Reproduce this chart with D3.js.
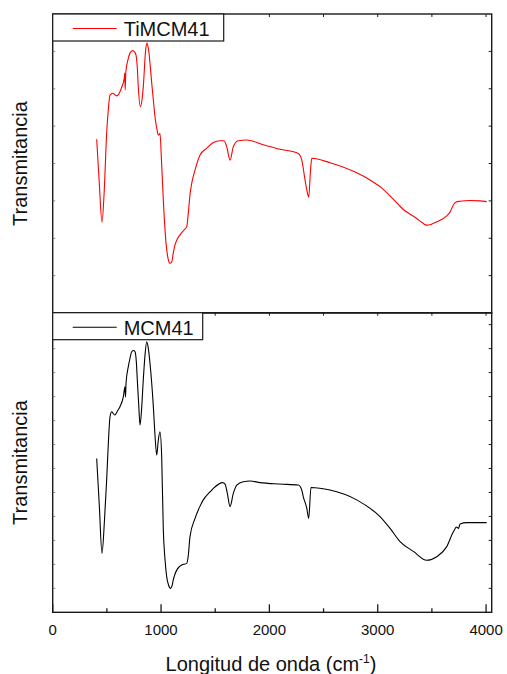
<!DOCTYPE html>
<html>
<head>
<meta charset="utf-8">
<script src="https://cdn.jsdelivr.net/npm/d3@7"></script>
<style>
  body { margin: 0; background: #fff; }
  svg { display: block; font-family: 'Liberation Sans', Arial, sans-serif; }
</style>
</head>
<body>
<svg width="507" height="674"></svg>
<script>
// FTIR spectra, wavenumber (cm-1) vs transmittance (arbitrary units)
const tiWave = [406, 430, 455, 476, 498, 513, 529, 554, 591, 637, 661, 665, 669, 675, 698, 714, 738, 757, 769, 781, 790, 809, 824, 836, 858, 870, 882, 889, 914, 929, 944, 960, 975, 986, 990, 1004, 1021, 1046, 1064, 1083, 1098, 1113, 1129, 1145, 1175, 1212, 1237, 1252, 1267, 1283, 1314, 1360, 1422, 1483, 1544, 1581, 1606, 1637, 1667, 1713, 1791, 1944, 2098, 2267, 2299, 2329, 2345, 2363, 2380, 2391, 2560, 2806, 2929, 3021, 3132, 3236, 3360, 3409, 3452, 3492, 3545, 3637, 3667, 3698, 3723, 3760, 3852, 3944, 4006];
const tiTrans = [4.65, 3.47, 2.43, 3.29, 4.81, 5.43, 5.83, 5.88, 5.81, 6.04, 6.29, 6.42, 5.97, 6.45, 6.81, 6.96, 7.02, 6.98, 6.90, 6.56, 6.05, 5.52, 5.70, 6.05, 7.04, 7.22, 7.09, 6.95, 6.15, 5.70, 5.25, 4.95, 4.76, 4.79, 4.81, 4.09, 3.02, 1.87, 1.47, 1.33, 1.36, 1.61, 1.82, 1.95, 2.09, 2.22, 2.31, 2.68, 3.16, 3.47, 3.83, 4.23, 4.41, 4.56, 4.61, 4.61, 4.45, 4.09, 4.45, 4.61, 4.63, 4.50, 4.38, 4.27, 4.09, 3.56, 3.30, 3.10, 3.83, 4.14, 4.02, 3.75, 3.56, 3.38, 3.08, 2.77, 2.53, 2.42, 2.35, 2.37, 2.44, 2.60, 2.70, 2.89, 2.97, 2.99, 3.01, 3.00, 2.98];

const mcmWave = [406, 430, 455, 478, 498, 515, 529, 545, 559, 575, 598, 621, 652, 667, 672, 677, 698, 714, 729, 746, 760, 772, 781, 794, 806, 820, 836, 852, 868, 882, 898, 929, 944, 960, 975, 990, 1006, 1021, 1037, 1052, 1069, 1089, 1101, 1113, 1129, 1145, 1166, 1191, 1237, 1252, 1267, 1314, 1360, 1390, 1452, 1483, 1569, 1591, 1612, 1637, 1667, 1699, 1759, 1821, 1914, 2098, 2267, 2299, 2313, 2345, 2363, 2384, 2560, 2806, 3021, 3114, 3206, 3329, 3452, 3545, 3637, 3698, 3728, 3745, 3760, 3822, 4006];
const mcmTrans = [6.42, 4.48, 2.46, 3.85, 5.52, 7.19, 8.16, 8.37, 8.29, 8.23, 8.40, 8.58, 8.99, 9.41, 8.98, 9.57, 10.25, 10.61, 10.87, 10.92, 10.87, 10.44, 9.69, 8.65, 7.81, 8.44, 9.69, 10.73, 11.29, 11.03, 10.39, 8.58, 7.40, 6.56, 7.19, 7.53, 6.49, 3.43, 2.18, 1.49, 1.14, 1.00, 1.10, 1.35, 1.60, 1.76, 1.89, 1.97, 2.04, 2.39, 3.15, 3.92, 4.43, 4.69, 5.02, 5.17, 5.41, 5.35, 4.96, 4.41, 4.96, 5.31, 5.45, 5.48, 5.41, 5.35, 5.31, 5.10, 4.82, 4.35, 3.92, 5.21, 5.10, 4.69, 3.99, 3.50, 2.95, 2.54, 2.17, 2.32, 2.74, 3.36, 3.56, 3.50, 3.68, 3.74, 3.74];

const xTicks = [0, 1000, 2000, 3000, 4000];
const xMinor = [500, 1500, 2500, 3500];
const topYTicks = [1, 2, 3, 4, 5, 6, 7];
const botYTicks = [1, 2, 3, 4, 5, 6, 7, 8, 9, 10, 11, 12];

const svg = d3.select('svg');
const left = 52.7, right = 491.7;
const frame = '#1a1a1a';

const x = d3.scaleLinear().domain([0, 4052]).range([left, right]);

const panels = [
  { top: 14, bottom: 313, dom: [0, 8], ticks: topYTicks, wave: tiWave, trans: tiTrans, color: '#ff0000', name: 'TiMCM41', boxW: 171 },
  { top: 312.7, bottom: 612.3, dom: [0, 12.5], ticks: botYTicks, wave: mcmWave, trans: mcmTrans, color: '#000000', name: 'MCM41', boxW: 150 }
];

panels.forEach(function (p, idx) {
  const y = d3.scaleLinear().domain(p.dom).range([p.bottom, p.top]);
  const g = svg.append('g');

  // spectrum
  const pts = p.wave.map((w, i) => [w, p.trans[i]]);
  g.append('path')
    .datum(pts)
    .attr('fill', 'none')
    .attr('stroke', p.color)
    .attr('stroke-width', 1.1)
    .attr('d', d3.line().x(d => x(d[0])).y(d => y(d[1])).curve(d3.curveMonotoneX));

  // frame
  g.append('rect')
    .attr('x', left).attr('y', p.top)
    .attr('width', right - left).attr('height', p.bottom - p.top)
    .attr('fill', 'none').attr('stroke', frame).attr('stroke-width', 1.4);

  // y ticks (inward, both sides)
  g.selectAll('.yl').data(p.ticks).join('line')
    .attr('x1', left).attr('x2', left + 2.5)
    .attr('y1', d => y(d)).attr('y2', d => y(d))
    .attr('stroke', '#666').attr('stroke-width', 0.8);
  g.selectAll('.yr').data(p.ticks).join('line')
    .attr('x1', right).attr('x2', right - 3)
    .attr('y1', d => y(d)).attr('y2', d => y(d))
    .attr('stroke', frame).attr('stroke-width', 1);

  // top edge ticks
  g.selectAll('.xt').data(xTicks.concat(xMinor).filter(d => d > 0)).join('line')
    .attr('x1', d => x(d)).attr('x2', d => x(d))
    .attr('y1', p.top).attr('y2', p.top + 3)
    .attr('stroke', frame).attr('stroke-width', 1);

  // legend
  const lg = g.append('g');
  lg.append('rect')
    .attr('x', left).attr('y', p.top)
    .attr('width', p.boxW).attr('height', 27)
    .attr('fill', '#fff').attr('stroke', frame).attr('stroke-width', 1.2);
  lg.append('line')
    .attr('x1', left + 20).attr('x2', left + 64)
    .attr('y1', p.top + 14.5).attr('y2', p.top + 14.5)
    .attr('stroke', p.color).attr('stroke-width', 1.1);
  lg.append('text')
    .attr('x', left + 71).attr('y', p.top + 22)
    .attr('font-size', 20).attr('fill', '#111')
    .text(p.name);

  // y title
  svg.append('text')
    .attr('transform', 'translate(27,' + ((p.top + p.bottom) / 2) + ') rotate(-90)')
    .attr('text-anchor', 'middle')
    .attr('font-size', 20).attr('fill', '#111')
    .text('Transmitancia');
});

// bottom x axis
const yb = 612.3;
svg.selectAll('.xmaj').data(xTicks).join('line')
  .attr('x1', d => x(d)).attr('x2', d => x(d))
  .attr('y1', yb).attr('y2', yb - 8)
  .attr('stroke', frame).attr('stroke-width', 1.3);
svg.selectAll('.xmin').data(xMinor).join('line')
  .attr('x1', d => x(d)).attr('x2', d => x(d))
  .attr('y1', yb).attr('y2', yb - 4)
  .attr('stroke', frame).attr('stroke-width', 1.3);
svg.selectAll('.xlab').data(xTicks).join('text')
  .attr('x', d => x(d)).attr('y', 635)
  .attr('text-anchor', 'middle')
  .attr('font-size', 15).attr('fill', '#111')
  .text(d => d);

const xt = svg.append('text')
  .attr('x', 271).attr('y', 671)
  .attr('text-anchor', 'middle')
  .attr('font-size', 20).attr('fill', '#111');
xt.append('tspan').text('Longitud de onda (cm');
xt.append('tspan').attr('dy', -8).attr('font-size', 12).text('-1');
xt.append('tspan').attr('dy', 8).text(')');
</script>
</body>
</html>
